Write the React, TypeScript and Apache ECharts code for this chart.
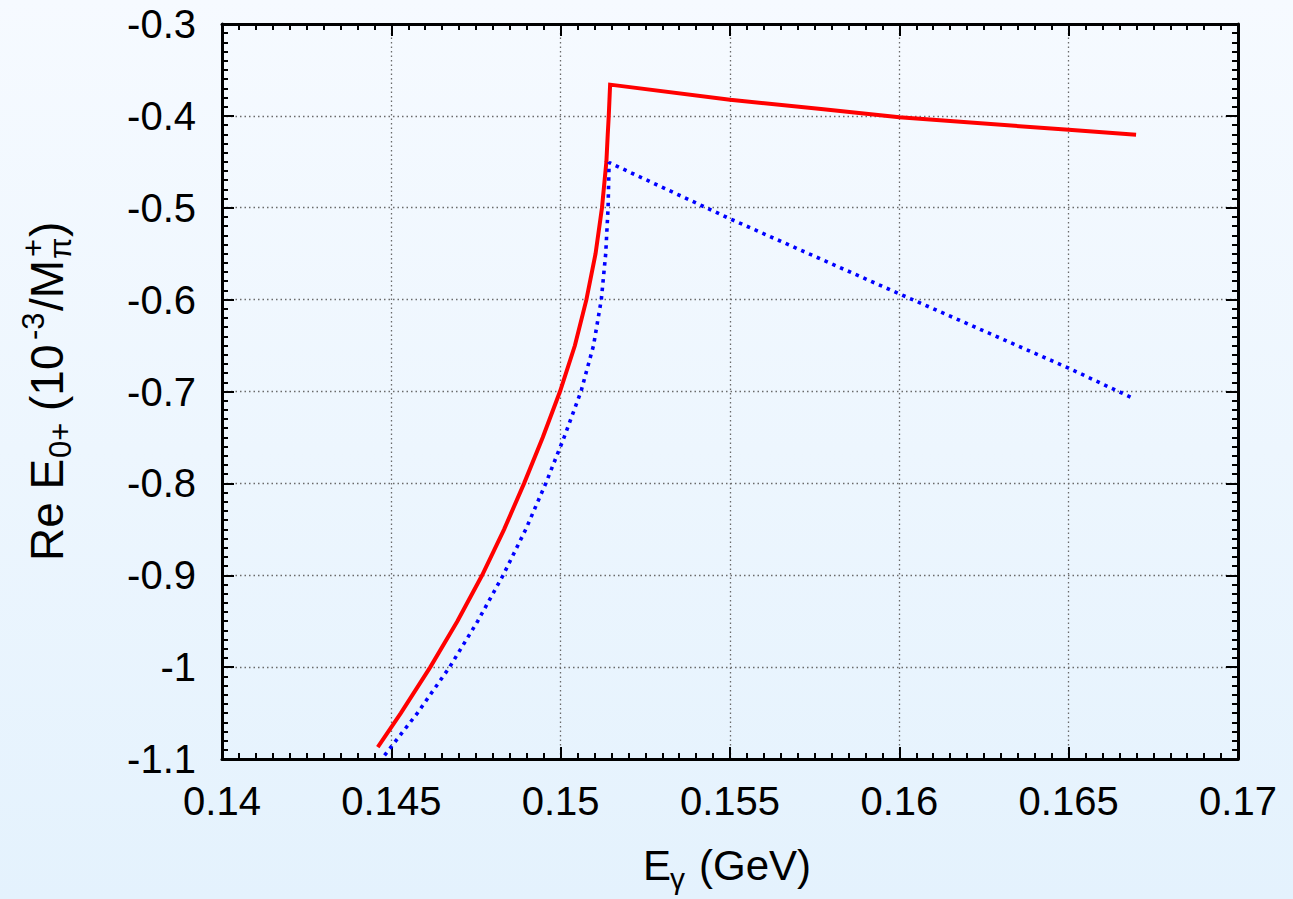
import React, { useEffect, useRef } from "react";
import * as echarts from "echarts";

// Red solid curve: [E_gamma (GeV), Re E0+]
const redX = [0.1446, 0.14528, 0.14615, 0.14695, 0.14768, 0.14833, 0.14892, 0.14947, 0.14998, 0.15042, 0.15076, 0.15103, 0.15122, 0.15135, 0.15139, 0.15142, 0.15146, 0.155, 0.15769, 0.16, 0.165, 0.16699];
const redY = [-1.087, -1.05, -1.0, -0.95, -0.9, -0.85, -0.8, -0.75, -0.7, -0.65, -0.6, -0.55, -0.5, -0.45, -0.42, -0.4, -0.366, -0.3825, -0.3926, -0.4014, -0.4152, -0.4206];

// Blue dotted curve
const blueX = [0.1448, 0.14577, 0.14672, 0.14755, 0.1483, 0.14897, 0.14956, 0.1501, 0.1506, 0.15097, 0.1512, 0.15133, 0.1514, 0.15143, 0.155, 0.16, 0.165, 0.16689];
const blueY = [-1.096, -1.05, -1.0, -0.95, -0.9, -0.85, -0.8, -0.75, -0.7, -0.65, -0.6, -0.55, -0.5, -0.4508, -0.512, -0.5937, -0.6746, -0.7072];

const X_MIN = 0.14, X_MAX = 0.17, X_STEP = 0.005;
const Y_MIN = -1.1, Y_MAX = -0.3, Y_STEP = 0.1;

const FONT = '"Liberation Sans", Arial, sans-serif';

function txt(text: string, x: number, baseline: number, size: number) {
  return {
    type: "text",
    x,
    y: baseline - 0.3465 * size,
    style: { text, fontSize: size, fontFamily: FONT, fill: "#000", align: "left", verticalAlign: "middle" },
  };
}

export default function App() {
  const ref = useRef<HTMLDivElement>(null);
  useEffect(() => {
    const chart = echarts.init(ref.current!, null, { renderer: "svg" });
    const red = redX.map((x, i) => [x, redY[i]]);
    const blue = blueX.map((x, i) => [x, blueY[i]]);
    const axisLine = { show: true, onZero: false, lineStyle: { color: "#000", width: 3 } };
    const tick = { show: true, inside: true, length: 12, lineStyle: { color: "#000", width: 2 } };
    const minor = { show: true, splitNumber: 10, length: 6, lineStyle: { color: "#000", width: 2 } };
    const split = { show: true, lineStyle: { color: "#6a6a6a", width: 1.3, type: [1.5, 3] } };
    const F = 46;
    const S = 31;
    chart.setOption({
      animation: false,
      backgroundColor: {
        type: "linear", x: 0, y: 0, x2: 0, y2: 1,
        colorStops: [{ offset: 0, color: "#f6faff" }, { offset: 1, color: "#e4f2fd" }],
      },
      textStyle: { fontFamily: FONT },
      grid: { left: 222, top: 24, width: 1016, height: 735, containLabel: false },
      xAxis: [
        {
          type: "value", position: "bottom", min: X_MIN, max: X_MAX, interval: X_STEP,
          axisLine, axisTick: tick, minorTick: minor, splitLine: split,
          axisLabel: { show: true, fontSize: 40, color: "#000", margin: 22, fontFamily: FONT,
            formatter: (v: number) => String(Math.round(v * 1000) / 1000) },
        },
        {
          type: "value", position: "top", min: X_MIN, max: X_MAX, interval: X_STEP,
          axisLine, axisTick: tick, minorTick: minor, splitLine: { show: false },
          axisLabel: { show: false },
        },
      ],
      yAxis: [
        {
          type: "value", position: "left", min: Y_MIN, max: Y_MAX, interval: Y_STEP,
          axisLine, axisTick: tick, minorTick: minor, splitLine: split,
          axisLabel: { show: true, fontSize: 40, color: "#000", margin: 26, fontFamily: FONT,
            formatter: (v: number) => String(Math.round(v * 10) / 10) },
        },
        {
          type: "value", position: "right", min: Y_MIN, max: Y_MAX, interval: Y_STEP,
          axisLine, axisTick: tick, minorTick: minor, splitLine: { show: false },
          axisLabel: { show: false },
        },
      ],
      series: [
        {
          type: "line", xAxisIndex: 0, yAxisIndex: 0, data: red, showSymbol: false, symbol: "none",
          lineStyle: { color: "#ff0000", width: 4, join: "miter" }, z: 3,
        },
        {
          type: "line", xAxisIndex: 0, yAxisIndex: 0, data: blue, showSymbol: false, symbol: "none",
          lineStyle: { color: "#0000ff", width: 3.6, type: [3.5, 5] }, z: 3,
        },
      ],
      graphic: [
        txt("E", 643, 880, 42),
        txt("γ", 670, 889, 30),
        txt("(GeV)", 699, 880, 42),
        {
          type: "group", x: 63, y: 558, rotation: Math.PI / 2,
          children: [
            txt("Re E", -3, 0, F),
            txt("0+", 100, 8, S),
            txt("(10", 147, 0, F),
            txt("-3", 218, -19, S),
            txt("/M", 247, 0, F),
            txt("π", 299, 8, S),
            txt("+", 301, -19, S),
            txt(")", 321, 0, F),
          ],
        },
      ],
    });
    return () => chart.dispose();
  }, []);
  return <div ref={ref} style={{ position: "absolute", left: 0, top: 0, width: 1293, height: 899 }} />;
}
